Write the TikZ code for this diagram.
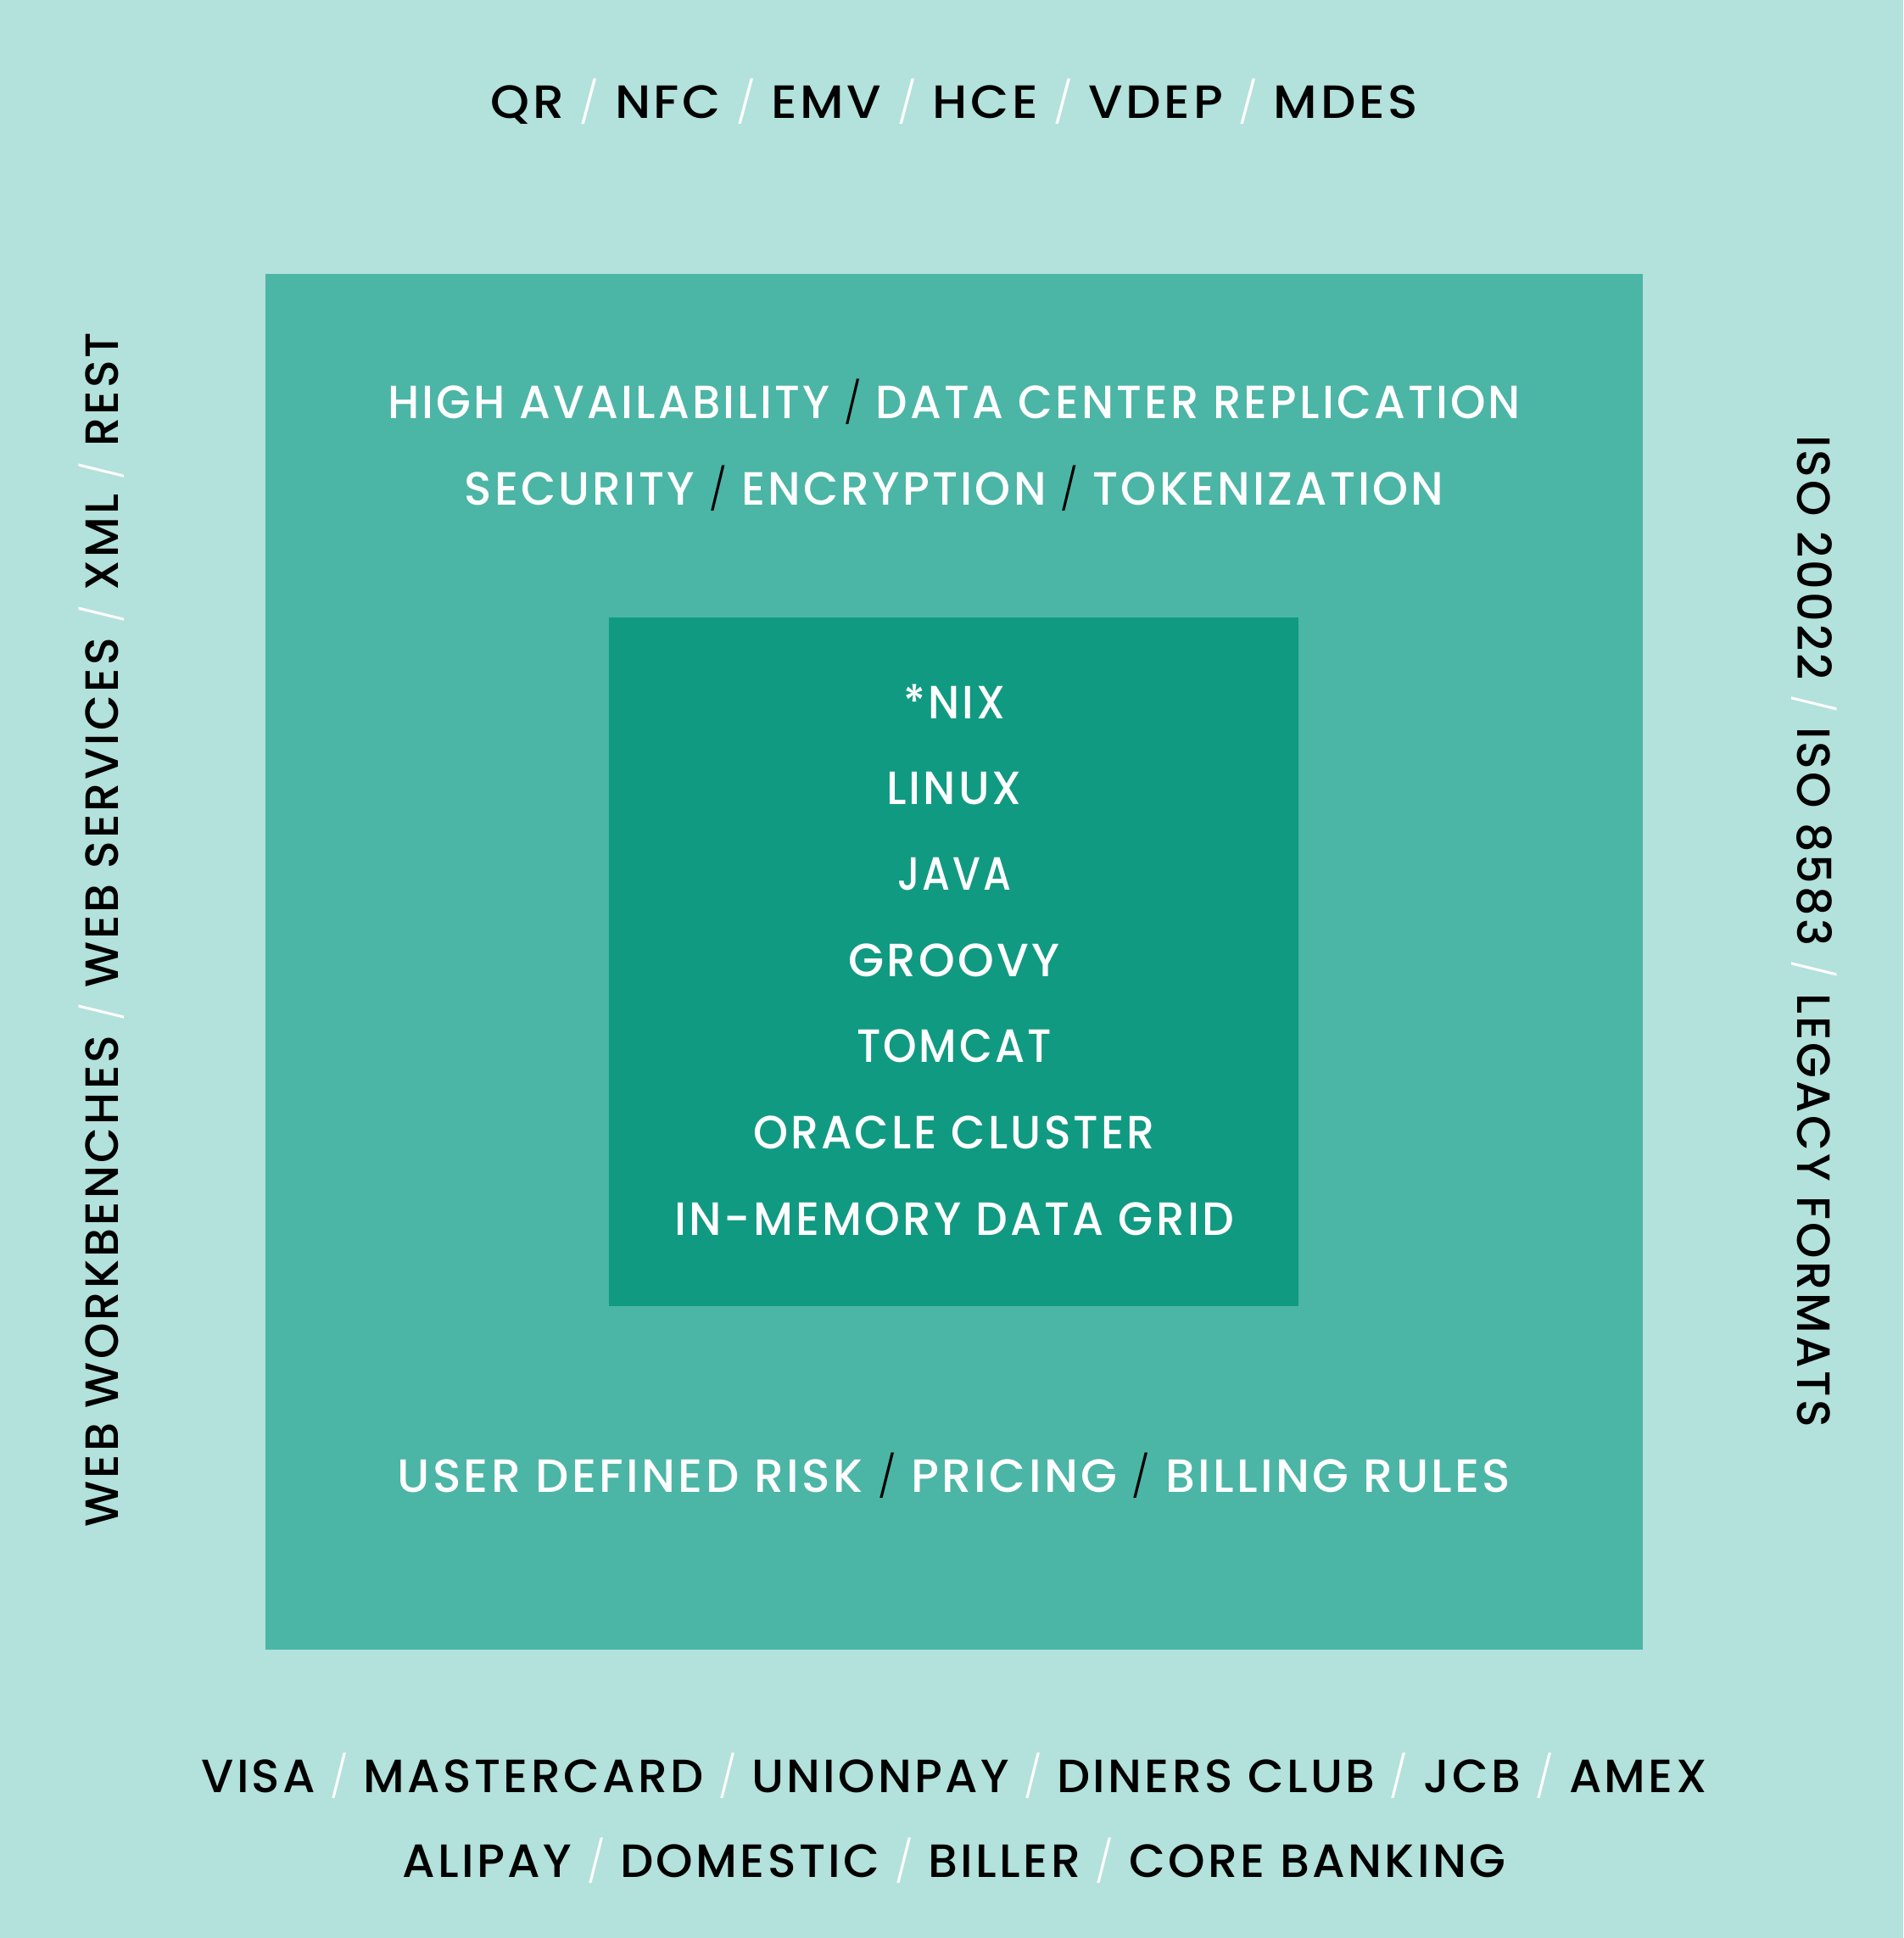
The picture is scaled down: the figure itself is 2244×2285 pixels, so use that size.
\documentclass[tikz,border=0pt]{standalone}
\usepackage{fontspec}
\setmainfont{Poppins Medium}[LetterSpace=6]
\newfontfamily\slfont{Poppins Light}
\usepackage{graphicx}
\definecolor{bgout}{RGB}{179,225,219}
\definecolor{bgmid}{RGB}{75,181,166}
\definecolor{bgin}{RGB}{17,154,130}
\newsavebox\fitbox
\newcommand\fitto[2]{\sbox\fitbox{#2}\pgfmathsetmacro\fitf{#1/\the\wd\fitbox}\scalebox{\fitf}[1]{\usebox\fitbox}}
\newcommand\slsym{\raisebox{0.02em}{\scalebox{0.88}{\slfont /}}}
\newcommand\wsl{{\color{white}\slsym}}
\newcommand\bsl{{\color{black}\slsym}}
\tikzset{
  lbl/.style={inner sep=0pt, font=\fontsize{55}{60}\selectfont},
  outtxt/.style={lbl, text=black},
  intxt/.style={lbl, text=white},
}
\begin{document}
\begin{tikzpicture}[x=1pt,y=-1pt]
\useasboundingbox (0,0) rectangle (2244,2285);
\fill[bgout] (0,0) rectangle (2244,2285);
\fill[bgmid] (313,323) rectangle (1937,1945);
\fill[bgin] (718,728) rectangle (1531,1540);
% top
\node[outtxt] (top) at (1125,119.5) {\fitto{1093}{QR \wsl{} NFC \wsl{} EMV \wsl{} HCE \wsl{} VDEP \wsl{} MDES}};
% middle box
\node[intxt] (ha) at (1125,473.5) {\fitto{1336}{HIGH AVAILABILITY \bsl{} DATA CENTER REPLICATION}};
\node[intxt] (sec) at (1125,575.5) {\fitto{1155}{SECURITY \bsl{} ENCRYPTION \bsl{} TOKENIZATION}};
\node[intxt] (user) at (1125,1740) {\fitto{1313}{USER DEFINED RISK \bsl{} PRICING \bsl{} BILLING RULES}};
% inner box
\node[intxt] (nix) at (1125,827.6) {\fitto{120}{*NIX}};
\node[intxt] (linux) at (1125,929.6) {\fitto{160}{LINUX}};
\node[intxt] (java) at (1125,1030.5) {\fitto{134}{JAVA}};
\node[intxt] (groovy) at (1125,1132) {\fitto{249}{GROOVY}};
\node[intxt] (tomcat) at (1125,1233) {\fitto{230}{TOMCAT}};
\node[intxt] (oracle) at (1125,1335) {\fitto{474}{ORACLE CLUSTER}};
\node[intxt] (imdg) at (1125,1437) {\fitto{660}{IN-MEMORY DATA GRID}};
% bottom
\node[outtxt] (cards) at (1125,2094) {\fitto{1775}{VISA \wsl{} MASTERCARD \wsl{} UNIONPAY \wsl{} DINERS CLUB \wsl{} JCB \wsl{} AMEX}};
\node[outtxt] (ali) at (1125,2194) {\fitto{1301}{ALIPAY \wsl{} DOMESTIC \wsl{} BILLER \wsl{} CORE BANKING}};
% sides
\node[outtxt, rotate=90] (left) at (119.5,1096) {\fitto{1409}{WEB WORKBENCHES \wsl{} WEB SERVICES \wsl{} XML \wsl{} REST}};
\node[outtxt, rotate=-90] (right) at (2139,1098) {\fitto{1170}{ISO 20022 \wsl{} ISO 8583 \wsl{} LEGACY FORMATS}};
\end{tikzpicture}
\end{document}
